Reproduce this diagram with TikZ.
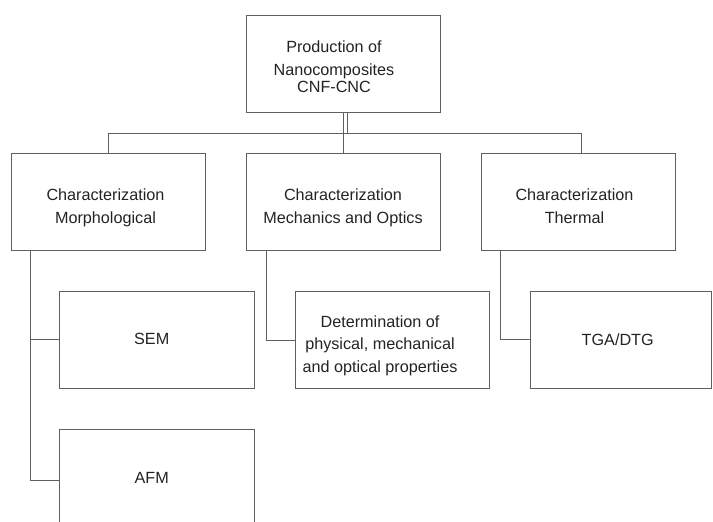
\documentclass[tikz,border=0pt]{standalone}
\usepackage{fontspec}
\setmainfont{Liberation Sans}
\definecolor{linec}{RGB}{95,95,95}
\definecolor{textc}{RGB}{35,35,35}
\begin{document}
\begin{tikzpicture}[x=1pt,y=-1pt,
  box/.style={draw=linec, line width=1pt, rectangle, inner sep=0pt, outer sep=0pt, anchor=north west},
  txt/.style={text=textc, font=\fontsize{16.2}{22.7}\selectfont, align=center, inner sep=0pt},
  conn/.style={draw=linec, line width=1pt}]
\useasboundingbox (0,0) rectangle (713,522);
% boxes
\node[box, minimum width=194.7pt, minimum height=97pt] (top) at (246,15) {};
\node[box, minimum width=194.4pt, minimum height=96.7pt] (left) at (11.3,153.3) {};
\node[box, minimum width=194pt, minimum height=96.7pt] (mid) at (246.7,153.3) {};
\node[box, minimum width=194.4pt, minimum height=96.7pt] (right) at (481.3,153.3) {};
\node[box, minimum width=194.6pt, minimum height=96.8pt] (sem) at (59.7,291.5) {};
\node[box, minimum width=194.6pt, minimum height=102pt] (afm) at (59.7,429) {};
\node[box, minimum width=194.3pt, minimum height=96.6pt] (det) at (295,291.7) {};
\node[box, minimum width=181.4pt, minimum height=96.7pt] (tga) at (530.3,291.3) {};
% texts
\node[txt] (toptext) at (334,67) {Production of\\Nanocomposites\\[-5.7pt]CNF-CNC};
\node[txt] (lefttext) at (105.5,208) {Characterization\\Morphological};
\node[txt] (midtext) at (343,208) {Characterization\\Mechanics and Optics};
\node[txt] (righttext) at (574.5,206) {Characterization\\Thermal};
\node[txt] (semtext) at (151.7,339.3) {SEM};
\node[txt] (afmtext) at (151.7,477.7) {AFM};
\node[txt] (tgatext) at (617.7,339.3) {TGA/DTG};
\node[txt] (dettext) at (380,345.8) {Determination of\\physical, mechanical\\and optical properties};
% connectors
\coordinate (busL) at (108.3,133);
\coordinate (busR) at (581.7,133);
\draw[conn] (busL |- left.north) -- (busL) -- (busR) -- (busR |- right.north);
\draw[conn] (top.south -| mid.north) -- (mid.north);
\draw[conn] ([xshift=3.4pt]top.south -| mid.north) -- ([xshift=3.4pt]busL -| mid.north);
\coordinate (lt) at (30.7,250);
\coordinate (mt) at (266,250);
\coordinate (rt) at (500.7,250);
\draw[conn] (lt) |- (sem.west);
\draw[conn] (lt) |- (afm.west);
\draw[conn] (mt) |- (det.west);
\draw[conn] (rt) |- (tga.west);
\end{tikzpicture}
\end{document}
